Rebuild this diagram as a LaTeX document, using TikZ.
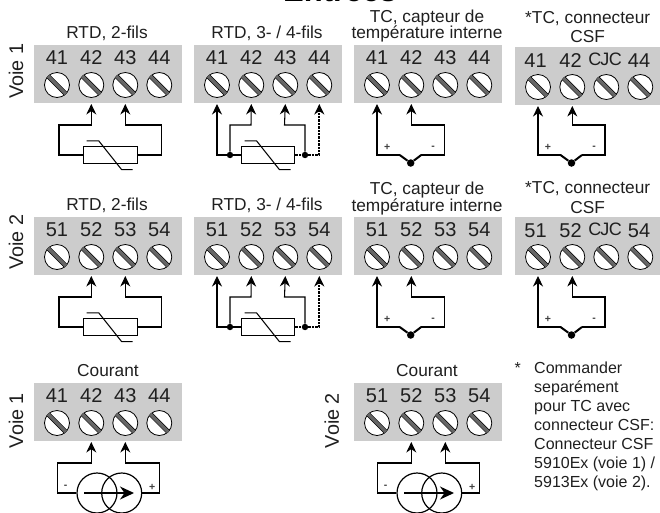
\documentclass[tikz,border=0pt]{standalone}
\usepackage{fontspec}
\setmainfont{Liberation Sans}
\usetikzlibrary{arrows.meta}
\definecolor{panelgray}{gray}{0.80}
\definecolor{inktext}{gray}{0.12}
\tikzset{
  panelbox/.style={fill=panelgray,draw=none,inner sep=0pt,minimum width=148pt,minimum height=58pt,anchor=north west},
  screwhead/.style={circle,draw=black,fill=white,line width=0.8pt,inner sep=0pt,minimum size=25pt},
  slot/.style={line width=0.6pt,draw=black,double=black!60,double distance=3.4pt,line cap=butt},
  termlabel/.style={font=\fontsize{20}{22}\selectfont,text=inktext,inner sep=0pt},
  headlabel/.style={font=\fontsize{17.3}{19}\selectfont,text=inktext,inner sep=0pt},
  voielabel/.style={font=\fontsize{19.8}{21}\selectfont,text=inktext,inner sep=0pt,rotate=90},
  signlabel/.style={font=\fontsize{10.5}{11}\selectfont\bfseries,text=black!75,inner sep=0pt},
  wire/.style={draw=black,line width=1.05pt,line join=miter},
  arrowwire/.style={wire,-{Stealth[length=10.5pt,width=10pt]}},
  dotwire/.style={wire,line width=1.7pt,dash pattern=on 2.4pt off 1pt,-{Stealth[length=10.5pt,width=10pt]}},
  rtdbox/.style={draw=black,line width=1.05pt,fill=white,inner sep=0pt,minimum width=53.7pt,minimum height=16.6pt},
  junction/.style={circle,fill=black,inner sep=0pt,minimum size=6.4pt},
  tcjunction/.style={circle,fill=black,inner sep=0pt,minimum size=7.5pt},
  sourcering/.style={circle,draw=black,line width=1.2pt,inner sep=0pt,minimum size=40pt},
}
\newcommand\panelbase[3]{%
  \node[panelbox] (#1box) at (#2,#3) {};
  \foreach \n/\dx in {1/23,2/57.3,3/91.3,4/125.3}{
    \node[screwhead] (#1s\n) at ({#2+\dx},{#3+40}) {};
    \draw[slot] ({#2+\dx-8.9},{#3+40-8.9}) -- ({#2+\dx+8.9},{#3+40+8.9});
    \coordinate (#1t\n) at ({#2+\dx},{#3+59});
  }%
}
\newcommand\panellabels[7]{%
  \node[termlabel] (#1l1) at ({#2+23},{#3+12.5}) {#4};
  \node[termlabel] (#1l2) at ({#2+57.3},{#3+12.5}) {#5};
  \node[termlabel] (#1l3) at ({#2+91.3},{#3+12.5}) {#6};
  \node[termlabel] (#1l4) at ({#2+125.3},{#3+12.5}) {#7};
}
\newcommand\csflabels[6]{%
  \node[termlabel] (#1l1) at ({#2+20.5},{#3+13.5}) {#4};
  \node[termlabel] (#1l2) at ({#2+55.5},{#3+13.5}) {#5};
  \node[termlabel,font=\fontsize{18}{20}\selectfont] (#1l3) at ({#2+90},{#3+12.5}) {C\kern-1ptJ\kern-0.5ptC};
  \node[termlabel] (#1l4) at ({#2+124},{#3+13.5}) {#6};
}
\newcommand\rtdsymbol[3]{%
  \node[rtdbox] (#1) at (#2,#3) {};
  \draw[wire] ({#2-23.5},{#3-14.2}) -- ({#2-11.5},{#3-14.2}) -- ({#2+11.5},{#3+14.7}) -- ({#2+22.5},{#3+14.7});
}
\newcommand\rtdtwo[2]{%
  \rtdsymbol{#1r}{110.2}{155+#2}
  \draw[arrowwire] (#1r.west) -| (59,125+#2) -| (#1t2);
  \draw[arrowwire] (#1r.east) -| (161.5,125+#2) -| (#1t3);
}
\newcommand\rtdfour[2]{%
  \rtdsymbol{#1r}{268}{155+#2}
  \node[junction] (#1jl) at (230,155+#2) {};
  \node[junction] (#1jr) at (305,155+#2) {};
  \draw[wire] (#1r.west) -- (#1jl);
  \draw[arrowwire] (#1jl) -| (#1t1);
  \draw[arrowwire] (#1jl) |- (251,125+#2) -- (#1t2);
  \draw[arrowwire] (#1jr) |- (284.5,125+#2) -- (#1t3);
  \draw[wire,dash pattern=on 2.4pt off 1pt,line width=1.7pt] (#1r.east) -- (#1jr);
  \draw[dotwire] (#1jr) -| (#1t4);
}
\newcommand\tcwiring[3]{%
  \node[tcjunction] (#1j) at ({#2+34},163+#3) {};
  \coordinate (#1a) at ({#2+23},155+#3);
  \coordinate (#1b) at ({#2+44.5},155+#3);
  \draw[wire,line width=2pt] (#1j) -- (#1a);
  \draw[wire,line width=2pt] (#1j) -- (#1b);
  \draw[arrowwire] (#1a) -| (#1t1);
  \draw[arrowwire] (#1b) -| ({#2+67.5},125+#3) -| (#1t2);
  \node[signlabel] (#1plus) at ({#2+10.5},147.5+#3) {+};
  \node[signlabel] (#1minus) at ({#2+56.5},147.5+#3) {-};
}
\newcommand\courant[2]{%
  \node[sourcering] (#1c1) at (97+#2,493) {};
  \node[sourcering] (#1c2) at (121.7+#2,493) {};
  \draw[arrowwire] (#1c1.west) -| (57.3+#2,463) -| (#1t2);
  \draw[arrowwire] (#1c2.east) -| (159.5+#2,463) -| (#1t3);
  \draw[line width=1.4pt,-{Stealth[length=14pt,width=13pt]}] (84+#2,493) -- (134+#2,493);
  \node[signlabel] (#1minus) at (65.7+#2,487) {-};
  \node[signlabel] (#1plus) at (152.3+#2,487) {+};
}
\begin{document}
\begin{tikzpicture}[x=1pt,y=-1pt]
\useasboundingbox (0,0) rectangle (660,512);
\clip (0,0) rectangle (660,512);
\node[inner sep=0pt,anchor=base,font=\fontsize{31}{33}\selectfont\bfseries] (title) at (340,1.5) {Entrées};
\node[voielabel] (v1) at (16,71) {Voie 1};
\node[headlabel] (h1) at (107,33) {RTD, 2-fils};
\node[headlabel] (h2) at (267,33) {RTD, 3- / 4-fils};
\node[headlabel] (h3a) at (427,18) {TC, capteur de};
\node[headlabel] (h3b) at (427,34) {température interne};
\node[headlabel] (h4a) at (587.7,19) {*TC, connecteur};
\node[headlabel] (h4b) at (587.7,37) {CSF};
\panelbase{a}{34}{45}\panellabels{a}{34}{45}{41}{42}{43}{44}
\panelbase{b}{194}{45}\panellabels{b}{194}{45}{41}{42}{43}{44}
\panelbase{c}{354}{45}\panellabels{c}{354}{45}{41}{42}{43}{44}
\panelbase{d}{515}{47}\csflabels{d}{515}{47}{41}{42}{44}
\rtdtwo{a}{0}
\rtdfour{b}{0}
\tcwiring{c}{376.7}{0}
\tcwiring{d}{537.5}{0}
\node[voielabel] (v2) at (16,242) {Voie 2};
\node[headlabel] (h5) at (107,205) {RTD, 2-fils};
\node[headlabel] (h6) at (267,205) {RTD, 3- / 4-fils};
\node[headlabel] (h7a) at (427,190.5) {TC, capteur de};
\node[headlabel] (h7b) at (427,207) {température interne};
\node[headlabel] (h8a) at (587.7,189) {*TC, connecteur};
\node[headlabel] (h8b) at (587.7,208) {CSF};
\panelbase{e}{34}{217}\panellabels{e}{34}{217}{51}{52}{53}{54}
\panelbase{f}{194}{217}\panellabels{f}{194}{217}{51}{52}{53}{54}
\panelbase{g}{354}{217}\panellabels{g}{354}{217}{51}{52}{53}{54}
\panelbase{h}{515}{217}\csflabels{h}{515}{217}{51}{52}{54}
\rtdtwo{e}{172}
\rtdfour{f}{172}
\tcwiring{g}{376.7}{172}
\tcwiring{h}{537.5}{172}
\node[voielabel] (v3) at (16,420.5) {Voie 1};
\node[voielabel] (v4) at (331.7,420.5) {Voie 2};
\node[headlabel] (h9) at (108,371) {Courant};
\node[headlabel] (h10) at (427,371) {Courant};
\panelbase{i}{34}{383}\panellabels{i}{34}{383}{41}{42}{43}{44}
\panelbase{j}{354}{383}\panellabels{j}{354}{383}{51}{52}{53}{54}
\courant{i}{0}
\courant{j}{320}
\node[inner sep=0pt,font=\fontsize{16}{18}\selectfont,text=inktext] (star) at (517.7,368) {*};
\node[inner sep=0pt,anchor=north west,align=left,font=\fontsize{16}{18.9}\selectfont,text=inktext] (note) at (534,362)
 {Commander\\separément\\pour TC avec\\connecteur CSF:\\Connecteur CSF\\5910Ex (voie 1) /\\5913Ex (voie 2).};
\end{tikzpicture}
\end{document}
